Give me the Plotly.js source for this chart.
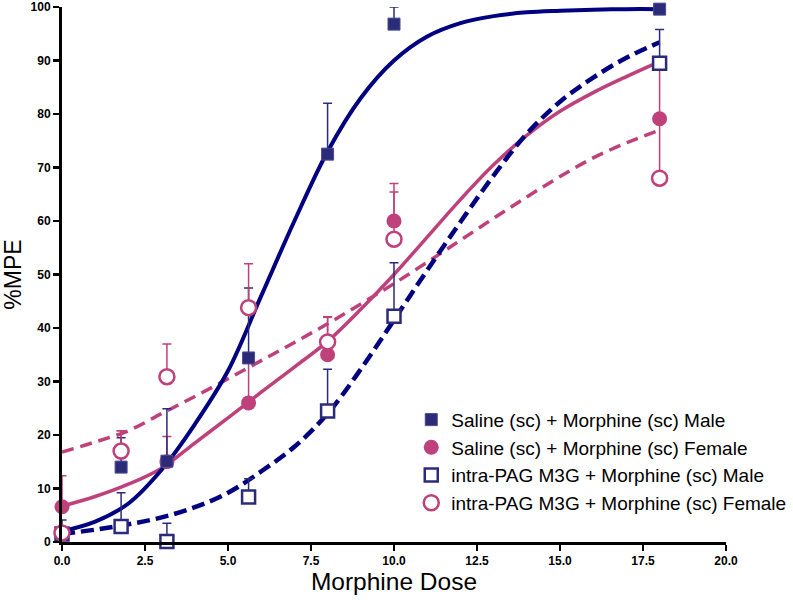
<!DOCTYPE html>
<html>
<head>
<meta charset="utf-8">
<script src="https://cdn.plot.ly/plotly-3.0.1.min.js"></script>
<style>html,body{margin:0;padding:0;background:#fff;}#chart{width:793px;height:600px;}</style>
</head>
<body>
<div id="chart"></div>
<script>
// ---- data ----
const doses = [0, 1.78, 3.16, 5.62, 8, 10, 18];

const salineMale = [1.5, 14, 15.1, 34.4, 72.5, 96.8, 99.6];
const salineMaleErr = [2.6, 5.5, 9.8, 13.1, 9.5, 3.2, 0];

const salineFemale = [6.6, 16.8, 15, 26, 35, 60, 79.1];
const salineFemaleErr = [5.8, 4, 4.7, 8, 7, 7, 10];

const m3gMale = [1.5, 2.9, 0.1, 8.4, 24.5, 42.2, 89.5];
const m3gMaleErr = [0, 6.3, 3.4, 3.4, 7.8, 10, 6.3];

const m3gFemale = [1.7, 17, 30.9, 43.8, 37.4, 56.6, 68];
const m3gFemaleErr = [0, 3.8, 6.1, 8.2, 4.7, 8.8, 11];

// fitted curves at whole-number doses
const fitX = [0, 1, 2, 3, 4, 5, 6, 7, 8, 9, 10, 11, 12, 13, 14, 15, 16, 17, 18];
const fitSalineMaleY   = [2, 3.8, 7.2, 13.5, 22, 32, 46, 60, 73, 83, 90, 94.5, 97, 98.3, 99, 99.3, 99.5, 99.6, 99.6];
const fitSalineFemaleY = [6.7, 8.5, 10.8, 13.8, 18.5, 23.2, 28, 32.7, 37.5, 43.5, 50, 57, 64, 70.5, 76, 80.5, 84, 87, 89.8];
const fitM3gMaleY      = [1.5, 2.3, 3.3, 4.6, 6.5, 9.2, 13.2, 17.8, 24, 32.3, 41.5, 50.8, 59.8, 68.5, 76.3, 82.3, 86.8, 90.5, 93.4];
const fitM3gFemaleY    = [16.8, 18.7, 20.8, 24, 27.2, 30.5, 33.9, 37.3, 40.8, 44.5, 48.3, 52.3, 56.4, 60.5, 64.5, 68.3, 71.8, 74.6, 77];

const legendNames = [
  'Saline (sc) + Morphine (sc) Male',
  'Saline (sc) + Morphine (sc) Female',
  'intra-PAG M3G + Morphine (sc) Male',
  'intra-PAG M3G + Morphine (sc) Female'
];

// ---- styles ----
const NAVY_LINE = '#000080';
const NAVY_MK = '#2b2b7a';
const PINK = '#bf417c';

function curve(y, color, dash, width) {
  return {x: fitX, y: y, mode: 'lines', type: 'scatter', showlegend: false, hoverinfo: 'skip',
    line: {color: color, width: width, dash: dash, shape: 'spline', smoothing: 1}, cliponaxis: false};
}
function errs(arr, color) {
  return {type: 'data', symmetric: false, array: arr, arrayminus: arr.map(() => 0),
    color: color, thickness: 1.5, width: 4.5};
}

const traces = [
  curve(fitSalineFemaleY, PINK, 'solid', 3.5),
  curve(fitM3gFemaleY, PINK, '12px,7px', 3.5),
  curve(fitM3gMaleY, NAVY_LINE, '13px,6px', 4.5),
  curve(fitSalineMaleY, NAVY_LINE, 'solid', 4),
  {x: doses, y: salineFemale, name: legendNames[1], legendrank: 2, legendgroup: 'b', mode: 'markers', type: 'scatter', cliponaxis: false,
    marker: {symbol: 'circle', size: 15, color: PINK}, error_y: errs(salineFemaleErr, PINK)},
  {x: doses, y: salineMale, name: legendNames[0], legendrank: 1, legendgroup: 'a', mode: 'markers', type: 'scatter', cliponaxis: false,
    marker: {symbol: 'square', size: 12, color: NAVY_MK, line: {color: '#4a4a90', width: 1}}, error_y: errs(salineMaleErr, NAVY_MK)},
  {x: doses, y: m3gMale, name: legendNames[2], legendrank: 3, legendgroup: 'c', mode: 'markers', type: 'scatter', cliponaxis: false,
    marker: {symbol: 'square', size: 13, color: '#ffffff', line: {color: NAVY_MK, width: 2.5}}, error_y: errs(m3gMaleErr, NAVY_MK)},
  {x: doses, y: m3gFemale, name: legendNames[3], legendrank: 4, legendgroup: 'd', mode: 'markers', type: 'scatter', cliponaxis: false,
    marker: {symbol: 'circle', size: 15, color: '#ffffff', line: {color: PINK, width: 2.5}}, error_y: errs(m3gFemaleErr, PINK)}
];

const tickFont = {family: 'Liberation Sans, Arial, sans-serif', size: 12, color: '#000', weight: 'bold'};
const layout = {
  width: 793, height: 600,
  margin: {l: 62, r: 67, t: 7, b: 58, autoexpand: false},
  paper_bgcolor: '#fff', plot_bgcolor: '#fff',
  showlegend: true,
  legend: {x: 0.526, y: 0.264, xanchor: 'left', yanchor: 'top', bgcolor: 'rgba(0,0,0,0)',
    font: {family: 'Liberation Sans, Arial, sans-serif', size: 19, color: '#000'}, tracegroupgap: 0},
  xaxis: {range: [0, 20], dtick: 2.5, tick0: 0, tickformat: '.1f', showgrid: false, zeroline: false,
    showline: true, linecolor: '#000', linewidth: 3, ticks: 'outside', ticklen: 6, tickwidth: 2.5, tickcolor: '#000',
    tickfont: tickFont, automargin: false,
    title: {text: 'Morphine Dose', font: {family: 'Liberation Sans, Arial, sans-serif', size: 24.5, color: '#000'}, standoff: 6}},
  yaxis: {range: [0, 100], dtick: 10, tick0: 0, showgrid: false, zeroline: false,
    showline: true, linecolor: '#000', linewidth: 3, ticks: 'outside', ticklen: 6, tickwidth: 2.5, tickcolor: '#000',
    tickfont: tickFont, automargin: false,
    title: {text: '%MPE', font: {family: 'Liberation Sans, Arial, sans-serif', size: 23, color: '#000'}, standoff: 8}}
};

Plotly.newPlot('chart', traces, layout, {displayModeBar: false, staticPlot: true});
</script>
</body>
</html>
